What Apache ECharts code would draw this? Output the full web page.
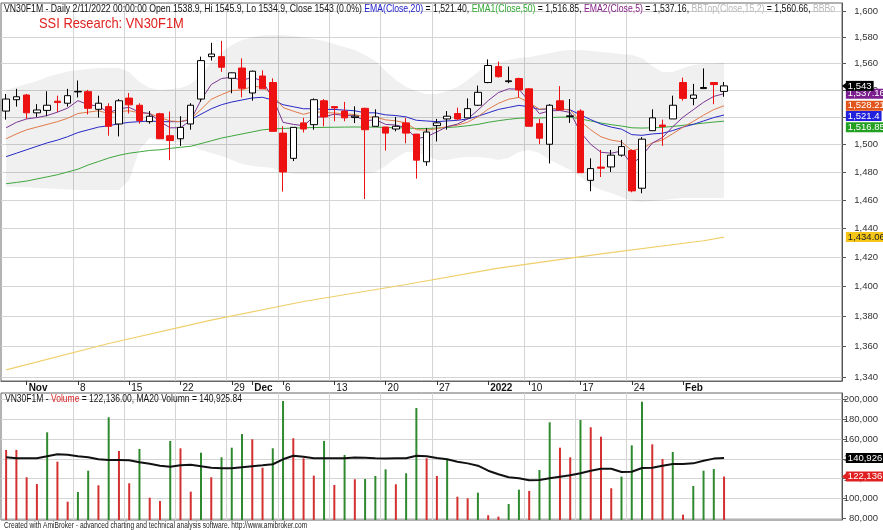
<!DOCTYPE html>
<html><head><meta charset="utf-8">
<script src="https://cdn.jsdelivr.net/npm/echarts@6/dist/echarts.min.js"></script>
<style>html,body{margin:0;padding:0;background:#fff}#c{width:883px;height:530px}</style>
</head><body><div id="c"></div>
<script>
// ---------------- DATA ----------------
const dates = ['2021-10-28','2021-10-29',
 '2021-11-01','2021-11-02','2021-11-03','2021-11-04','2021-11-05',
 '2021-11-08','2021-11-09','2021-11-10','2021-11-11','2021-11-12',
 '2021-11-15','2021-11-16','2021-11-17','2021-11-18','2021-11-19',
 '2021-11-22','2021-11-23','2021-11-24','2021-11-25','2021-11-26',
 '2021-11-29','2021-11-30',
 '2021-12-01','2021-12-02','2021-12-03',
 '2021-12-06','2021-12-07','2021-12-08','2021-12-09','2021-12-10',
 '2021-12-13','2021-12-14','2021-12-15','2021-12-16','2021-12-17',
 '2021-12-20','2021-12-21','2021-12-22','2021-12-23','2021-12-24',
 '2021-12-27','2021-12-28','2021-12-29','2021-12-30','2021-12-31',
 '2022-01-04','2022-01-05','2022-01-06','2022-01-07',
 '2022-01-10','2022-01-11','2022-01-12','2022-01-13','2022-01-14',
 '2022-01-17','2022-01-18','2022-01-19','2022-01-20','2022-01-21',
 '2022-01-24','2022-01-25','2022-01-26','2022-01-27','2022-01-28',
 '2022-02-07','2022-02-08','2022-02-09','2022-02-10','2022-02-11'];
const blankSlots = 11;

const openP  = [1524.3,1532.7,1536.2,1523.0,1524.8,1531.6,1530.1,1538.5,1538.7,1525.6,
 1527.6,1514.8,1533.9,1528.6,1516.5,1522.3,1506.2,1504.0,1514.8,1533.2,
 1565.0,1565.0,1548.7,1556.4,1537.7,1550.4,1545.5,1508.1,1489.8,1515.6,
 1514.3,1531.9,1527.6,1524.3,1519.5,1526.3,1513.1,1512.6,1511.1,1515.6,
 1507.4,1487.3,1513.6,1518.5,1522.5,1519.3,1528.6,1545.5,1557.5,1546.2,
 1548.5,1540.8,1515.0,1500.0,1531.9,1520.3,1524.3,1474.0,1483.5,1483.6,
 1492.1,1495.4,1468.4,1509.9,1514.0,1518.5,1545.5,1533.7,1541.0,1545.5,1538.9];
const highP  = [1537.0,1540.8,1537.0,1529.4,1539.0,1535.7,1540.8,1547.0,1540.0,1535.7,
 1530.1,1533.2,1537.7,1530.1,1524.3,1523.0,1524.0,1520.5,1530.1,1565.0,
 1575.5,1577.0,1553.0,1563.7,1554.5,1554.7,1548.7,1513.1,1512.3,1519.3,
 1533.7,1533.2,1527.8,1531.1,1527.8,1526.8,1525.6,1512.6,1520.0,1519.3,
 1507.4,1511.9,1518.5,1524.3,1526.8,1533.7,1543.2,1562.9,1561.3,1557.5,
 1549.2,1541.2,1518.5,1529.4,1542.8,1533.2,1525.6,1489.8,1495.9,1495.9,
 1503.2,1496.3,1505.2,1525.6,1518.0,1535.7,1549.2,1544.5,1556.1,1545.5,1545.9];
const lowP   = [1518.0,1527.6,1518.5,1520.0,1520.5,1523.5,1527.6,1534.4,1521.8,1519.5,
 1506.2,1505.7,1522.5,1515.0,1515.0,1503.7,1488.5,1498.8,1510.6,1531.1,
 1562.0,1553.5,1537.5,1534.4,1532.0,1540.8,1509.4,1466.0,1487.8,1508.6,
 1510.6,1513.1,1516.8,1516.8,1515.5,1460.7,1513.1,1495.4,1509.4,1500.7,
 1475.2,1484.4,1502.0,1510.6,1517.5,1519.3,1528.1,1545.0,1549.2,1545.0,
 1534.4,1513.1,1500.0,1486.1,1525.1,1515.6,1479.5,1466.2,1476.4,1480.0,
 1491.0,1465.5,1464.8,1509.9,1498.8,1518.5,1532.0,1528.6,1541.0,1529.4,1534.9];
const closeP = [1533.2,1534.9,1523.0,1525.1,1528.6,1530.6,1535.7,1538.9,1526.3,1530.1,
 1513.1,1531.9,1528.9,1517.3,1520.5,1504.0,1502.7,1512.3,1528.6,1562.0,
 1567.0,1557.0,1552.8,1541.2,1554.0,1540.8,1509.4,1480.0,1512.3,1511.1,
 1532.7,1520.0,1526.6,1519.3,1520.5,1510.6,1520.0,1508.1,1513.1,1508.1,
 1488.5,1508.9,1515.6,1520.5,1518.5,1526.1,1538.2,1558.3,1549.9,1546.8,
 1540.0,1513.1,1504.4,1528.6,1525.1,1520.8,1479.5,1482.4,1482.7,1492.1,
 1498.3,1466.5,1503.7,1519.3,1513.0,1528.6,1533.7,1536.2,1541.8,1544.0,1543.0];

const ema5  = [1512,1516,1518.5,1519.5,1521,1523.5,1526.5,1532,1529,1528,
 1523,1526,1527,1523.5,1522.5,1516.5,1512,1512,1517.5,1532.5,
 1544,1548.5,1549.5,1547,1549.5,1546.5,1534,1516,1514.5,1513.5,
 1520,1520,1522,1521,1520.8,1517,1518,1514.5,1514,1512,
 1504,1505.5,1509,1512.8,1514.7,1518.5,1525,1532,1538,1540.8,
 1540.5,1531.4,1522.4,1524.5,1524.7,1523.3,1508.7,1499.9,1494.2,1493.5,
 1495.1,1485.6,1491.6,1500.8,1504.9,1512.8,1519.8,1525.3,1530.8,1535.2,1537.16];
const ema10 = [1504,1507.5,1510.5,1512.5,1514.5,1516.5,1519,1522.5,1523.5,1524.5,
 1522.5,1524,1524.5,1523,1522.5,1519.5,1517,1516.5,1518.5,1525.5,
 1533,1536.5,1539.5,1540,1542.5,1542.3,1536.3,1526.9,1524.2,1521.9,
 1523.9,1523.2,1522.9,1522.2,1521.8,1519.8,1519.9,1517.8,1517.1,1515.5,
 1510.6,1510.3,1511.3,1512.9,1513.9,1516.1,1520.2,1525.7,1530,1533.1,
 1534.4,1530.5,1525.7,1526.2,1526,1525,1516.7,1510.5,1505.4,1503,
 1501.8,1495.4,1496.9,1501,1503.1,1507.7,1512.4,1516.7,1521.3,1525.4,1528.21];
const ema20 = [1491,1493.5,1496,1498.5,1501,1503,1505.5,1508.5,1510.5,1512.5,
 1513.5,1515,1516,1516.5,1517,1516.5,1516.5,1516.5,1518,1522,
 1526,1529,1531,1532.5,1534,1534.5,1532.5,1529,1527.5,1526,
 1526,1525.5,1525.5,1525,1524.5,1523,1523,1521.5,1521,1520,
 1517.5,1517,1516.5,1517,1517.5,1518.5,1520.5,1523,1525.5,1527,
 1528.5,1527.5,1525.5,1526,1525.8,1525.2,1521.5,1518,1514.7,1512.5,
 1511,1507,1506.5,1507.5,1508,1510,1512.5,1514.5,1517,1519.5,1521.4];
const ema50 = [1471.6,1472.5,1473.5,1475,1476.5,1478,1480,1482,1485,1487.5,
 1490,1492,1493.5,1494.5,1495.5,1496,1497,1497.8,1498.5,1500.5,
 1502.5,1504.5,1506,1507.5,1509,1510.5,1511.2,1511.5,1511.8,1512,
 1512.2,1512.3,1512.4,1512.5,1512.6,1512.5,1512.5,1512.2,1512,1511.9,
 1511.5,1511.5,1511.8,1512.2,1512.7,1513.5,1514.5,1516,1517.2,1518.2,
 1519,1519.3,1519.2,1519.5,1519.8,1519.8,1518.5,1517,1515.5,1514.3,
 1513.3,1512,1511.8,1512,1512.3,1513,1513.8,1514.6,1515.4,1516.2,1516.85];
const bbTop = [1540.0,1542.2,1544.4,1546.7,1549.7,1551.9,1553.8,1555.0,1555.7,1556.4,
 1556.4,1556.4,1553.5,1546.0,1541.5,1540.0,1540.4,1541.5,1544.4,1551.2,
 1561.0,1568.6,1573.9,1577.7,1580.0,1581.1,1581.5,1581.5,1580.7,1579.6,
 1578.5,1576.9,1574.6,1572.4,1570.1,1566.3,1561.7,1554.2,1547.4,1542.2,
 1539.2,1537.0,1537.0,1539.2,1542.2,1547.4,1553.5,1558.7,1561.0,1562.5,
 1564.0,1564.8,1566.3,1567.8,1569.3,1570.1,1570.1,1569.3,1568.6,1567.8,
 1567.1,1566.3,1564.0,1558.0,1553.5,1553.5,1556.4,1558.7,1559.5,1559.9,1560.66];
const bbBot = [1469.5,1469.3,1468.9,1468.6,1468.2,1467.9,1467.5,1467.2,1467.2,1467.2,
 1467.2,1467.2,1474.3,1495.9,1504.6,1503.1,1501.7,1501.0,1499.5,1495.9,
 1493.7,1491.5,1488.6,1485.7,1484.3,1483.6,1482.8,1480.0,1478.6,1478.6,
 1478.6,1478.6,1478.6,1478.6,1478.6,1478.6,1480.0,1484.3,1490.1,1494.4,
 1494.4,1491.5,1488.6,1488.6,1490.1,1490.8,1490.8,1490.1,1488.6,1490.1,
 1494.4,1495.9,1493.7,1488.6,1485.0,1481.4,1476.4,1470.7,1467.2,1465.0,
 1462.2,1459.4,1458.7,1459.4,1460.1,1460.8,1461.5,1461.5,1461.5,1461.5,1461.5];
// long moving average (yellow), read at a few bars
const longMaIdx = [0,10,20,29,39,48,58,68,70];
const longMaVal = [1344.7,1362,1377.5,1390,1401.5,1412.6,1422.4,1431.5,1434.06];

const volume = [148900,149000,121400,114600,166700,137100,96800,106500,128000,113300,
 181900,147900,115300,149900,100800,97500,158000,150600,106900,146200,
 121400,141500,151200,165000,159700,131000,150600,198300,160700,140500,
 123000,158000,113600,143900,119400,119700,122700,129400,114300,125400,
 191200,140500,122700,139000,101800,100200,105900,83100,81700,94400,
 108900,107600,128700,176800,151200,141500,179100,171800,162300,110300,
 122000,153600,197600,154600,139800,146900,83700,112600,128000,129700,122136];
const volUp = ['r','r','r','r','g','r','r','g','g','r','g','r','r','g','r','r','g','r','r','g',
 'r','g','g','g','r','r','g','g','r','r','r','g','r','g','r','g','g','g','r','g',
 'g','r','r','g','r','r','g','r','r','g','g','r','g','g','r','r','g','r','r','r',
 'g','g','g','r','r','g','r','g','g','g','r'];
const volMa20 = [141.5,140.5,140.5,140.5,142.5,144.6,144.2,142.5,141.5,139.5,
 138.8,138.8,138.5,136.5,135,133,132,133.5,134.1,132.5,
 131,130.4,130.4,131.5,132.6,133.5,134.5,139.5,143.1,142,
 140.5,140.5,140.5,140.5,141.2,141,140.5,140.2,140.5,140.5,
 143.1,142.5,140.8,139.5,137.1,135.4,133.1,128,124.4,121.4,
 120.4,118.3,118.7,120.4,122,123.4,125.4,128,130,130,
 126.7,127,130.7,131,133.1,134.8,134.8,135.4,138.1,140.2,140.926].map(v => v * 1000);

const dateLabelIdx = [2,7,12,17,22,24,27,32,37,42,47,51,56,61,66];
const dateLabelTxt = ['Nov','8','15','22','29','Dec','6','13','20','27','2022','10','17','24','Feb'];
const dateLabelBold = ['Nov','Dec','2022','Feb'];
const weekGridIdx = [7,12,17,22,27,32,37,42,51,56,61];
const priceTicks = [1340,1360,1380,1400,1420,1440,1460,1480,1500,1520,1540,1560,1580,1600];
const volTicks = [80000,100000,120000,140000,160000,180000,200000];

// ---------------- CHART ----------------
const SANS = '"Liberation Sans",Arial,sans-serif';
const AX = 9.5;
const cats = dates.concat(Array.from({length: blankSlots}, (_, k) => 'blank' + k));
const lastIdx = cats.length - 1;

const candleData = dates.map((d, i) => [openP[i], closeP[i], lowP[i], highP[i]]);
const bandDiff = bbTop.map((v, i) => +(v - bbBot[i]).toFixed(2));
const longMa = dates.map(() => null);
longMaIdx.forEach((ix, k) => { longMa[ix] = longMaVal[k]; });
const volData = volume.map((v, i) => ({value: v, itemStyle: {color: volUp[i] === 'g' ? '#2f8a2f' : '#d43030'}}));

function fmtNum(v) { return Number(v).toLocaleString('en-US'); }
function tag(value, text, bg, fg, dy) {
  return {
    coord: [lastIdx, value], value: text, symbol: 'rect', symbolSize: 0,
    label: {show: true, position: 'right', distance: 9, offset: [0, dy || 0], formatter: text,
      backgroundColor: bg, color: fg, padding: [1, 2, 0, 2], fontFamily: SANS, fontSize: AX, lineHeight: 9}
  };
}
function arrow(value, col) {
  return {coord: [lastIdx, value], symbol: 'triangle', symbolSize: [9, 6], symbolRotate: 90, symbolOffset: [8, 0],
    itemStyle: {color: col}, label: {show: false}};
}
function mp(items) { return {silent: true, animation: false, data: items}; }

const lineBase = (name, data, color, extra) => Object.assign({
  name, type: 'line', xAxisIndex: 0, yAxisIndex: 0, data, symbol: 'none', smooth: false,
  lineStyle: {color, width: 1}, itemStyle: {color}, animation: false, z: 3
}, extra || {});

const headerRich = {
  k: {fill: '#111', font: '11px ' + SANS},
  b: {fill: '#2222cc', font: '11px ' + SANS},
  g: {fill: '#33aa33', font: '11px ' + SANS},
  p: {fill: '#882288', font: '11px ' + SANS},
  l: {fill: '#b8b8b8', font: '11px ' + SANS},
  r: {fill: '#dd2222', font: '11px ' + SANS}
};

const chart = echarts.init(document.getElementById('c'), null, {renderer: 'canvas'});
chart.setOption({
  animation: false,
  backgroundColor: '#ffffff',
  graphic: [
    {type: 'text', x: 4, y: 3.5, scaleX: 0.79, z: 100, silent: true,
     style: {text: '{k|VN30F1M - Daily 2/11/2022 00:00:00 Open 1538.9, Hi 1545.9, Lo 1534.9, Close 1543 (0.0%) }{b|EMA(Close,20)}{k| = 1,521.40, }{g|EMA1(Close,50)}{k| = 1,516.85, }{p|EMA2(Close,5)}{k| = 1,537.16, }{l|BBTop(Close,15,2)}{k| = 1,560.66, }{l|BBBot(Close,15,2)}',
       rich: headerRich, font: '11px ' + SANS, fill: '#111', width: 1055, overflow: 'truncate', ellipsis: ''}},
    {type: 'text', x: 39, y: 16, scaleX: 0.86, z: 100, silent: true,
     style: {text: 'SSI Research: VN30F1M', font: '15px ' + SANS, fill: '#e0201e'}},
    {type: 'text', x: 5, y: 393, scaleX: 0.775, z: 100, silent: true,
     style: {text: '{k|VN30F1M - }{r|Volume}{k| = 122,136.00, MA20 Volumn = 140,925.84}', rich: headerRich, font: '11px ' + SANS, fill: '#111'}},
    {type: 'text', x: 4, y: 521, scaleX: 0.78, z: 100, silent: true,
     style: {text: 'Created with AmiBroker - advanced charting and technical analysis software. http://www.amibroker.com', font: '8.5px ' + SANS, fill: '#222'}}
  ],
  grid: [
    {left: 1, right: 41, top: 3, height: 378, show: true, borderColor: '#666', borderWidth: 1, backgroundColor: 'transparent'},
    {left: 1, right: 41, top: 393, height: 127, show: true, borderColor: '#666', borderWidth: 1, backgroundColor: 'transparent'}
  ],
  xAxis: [
    {type: 'category', gridIndex: 0, data: cats, boundaryGap: true,
     axisLine: {show: true, lineStyle: {color: '#666'}},
     axisTick: {show: true, alignWithLabel: true, length: 4, interval: (i) => dateLabelIdx.includes(i), lineStyle: {color: '#333'}},
     axisLabel: {show: true, interval: (i) => dateLabelIdx.includes(i), align: 'left', margin: 2, padding: [0, 0, 0, 2],
       fontFamily: SANS, fontSize: 10, color: '#111',
       formatter: (v, i) => { const k = dateLabelIdx.indexOf(i); if (k < 0) return ''; const t = dateLabelTxt[k]; return dateLabelBold.includes(t) ? '{b|' + t + '}' : t; },
       rich: {b: {fontWeight: 'bold', fontFamily: SANS, fontSize: 10, color: '#111'}}},
     splitLine: {show: true, interval: (i) => weekGridIdx.includes(i), lineStyle: {color: '#d4d4d4', width: 1}}},
    {type: 'category', gridIndex: 1, data: cats, boundaryGap: true,
     axisLine: {show: false}, axisTick: {show: false}, axisLabel: {show: false},
     splitLine: {show: true, interval: (i) => weekGridIdx.includes(i), lineStyle: {color: '#d4d4d4', width: 1}}}
  ],
  yAxis: [
    {type: 'log', logBase: 10, gridIndex: 0, position: 'right', min: 1337.5, max: 1606.2, scale: true,
     axisLine: {show: true, lineStyle: {color: '#555'}},
     axisTick: {show: true, length: 4, customValues: priceTicks, lineStyle: {color: '#555'}},
     axisLabel: {show: true, customValues: priceTicks, formatter: fmtNum, align: 'right', margin: 36, fontFamily: SANS, fontSize: AX, color: '#333'},
     splitLine: {show: true, lineStyle: {color: '#d4d4d4', width: 1}}},
    {type: 'value', gridIndex: 1, position: 'right', min: 78300, max: 206350,
     axisLine: {show: true, lineStyle: {color: '#555'}},
     axisTick: {show: true, length: 4, customValues: volTicks, lineStyle: {color: '#555'}},
     axisLabel: {show: true, customValues: volTicks, formatter: fmtNum, align: 'right', margin: 36, fontFamily: SANS, fontSize: AX, color: '#333'},
     splitLine: {show: true, lineStyle: {color: '#d4d4d4', width: 1}}}
  ],
  series: [
    lineBase('bbBot', bbBot, 'rgba(0,0,0,0)', {stack: 'bb', lineStyle: {opacity: 0}, z: 1}),
    lineBase('bbBand', bandDiff, 'rgba(0,0,0,0)', {stack: 'bb', lineStyle: {opacity: 0}, areaStyle: {color: 'rgba(0,0,0,0.085)'}, z: 1}),
    lineBase('longMA', longMa, '#f0cf6a', {connectNulls: true, lineStyle: {color: '#f0cf6a', width: 1.2}, markPoint: mp([tag(1434.06, '1,434.06', '#f5c518', '#222', 0)])}),
    lineBase('EMA50', ema50, '#3fa63f', {markPoint: mp([tag(1516.85, '1,516.85', '#22a022', '#fff', 6)])}),
    lineBase('EMA20', ema20, '#2828c8', {markPoint: mp([tag(1521.4, '1,521.4', '#2222dd', '#fff', 1)])}),
    lineBase('EMA10', ema10, '#e07a4a', {markPoint: mp([tag(1528.21, '1,528.21', '#e0561c', '#fff', 0)])}),
    lineBase('EMA5', ema5, '#7a3592', {markPoint: mp([tag(1537.16, '1,537.16', '#7b1f8f', '#fff', 0)])}),
    {name: 'VN30F1M', type: 'candlestick', xAxisIndex: 0, yAxisIndex: 0, data: candleData, barWidth: 7, z: 5,
     itemStyle: {color: '#ffffff', color0: '#ee1111', borderColor: '#000000', borderColor0: '#ee1111', borderWidth: 1},
     markPoint: mp([arrow(1543, '#000'), tag(1543, '1,543', '#000', '#fff', 0)])},
    {name: 'Volume', type: 'bar', xAxisIndex: 1, yAxisIndex: 1, data: volData, barWidth: 2, z: 3,
     markPoint: mp([arrow(122136, '#e02020'), tag(122136, '122,136', '#e02020', '#fff', 0)])},
    {name: 'MA20 Volumn', type: 'line', xAxisIndex: 1, yAxisIndex: 1, data: volMa20, symbol: 'none',
     lineStyle: {color: '#111', width: 2}, z: 4,
     markPoint: mp([tag(140926, '140,926', '#000', '#fff', 0)])}
  ]
});
</script></body></html>
